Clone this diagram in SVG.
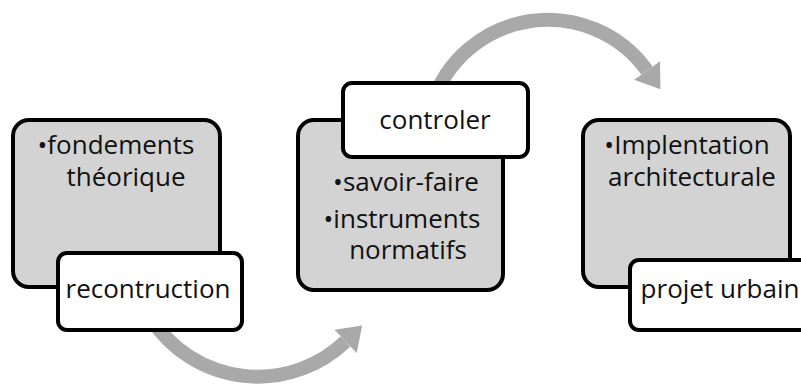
<svg xmlns="http://www.w3.org/2000/svg" width="801" height="385" viewBox="0 0 801 385">
<style>
.main{fill:#d3d3d3;stroke:#000;stroke-width:4}
.tab{fill:#fff;stroke:#000;stroke-width:4}
.arc{fill:none;stroke:#a9a9a9;stroke-width:14}
text{font-family:"Open Sans","Liberation Sans",sans-serif;font-size:26px;fill:#111;text-anchor:middle}
</style>
<defs>
<marker id="ah" markerUnits="userSpaceOnUse" markerWidth="24" markerHeight="32" refX="0" refY="16" orient="auto" viewBox="0 0 24 32">
<path d="M0,0 L23,16 L0,32 z" fill="#a9a9a9"/>
</marker>
</defs>
<g id="connectors">
<path class="arc" d="M152,320 A127,127 0 0 0 345.6,341.4" marker-end="url(#ah)"/>
<path class="arc" d="M432,104 A122,122 0 0 1 647,70.5" marker-end="url(#ah)"/>
</g>
<g id="node1">
<rect class="main" x="13" y="120" width="207" height="167" rx="16"/>
<text x="116" y="154">•fondements</text>
<text x="126" y="186">théorique</text>
</g>
<g id="tab1">
<rect class="tab" x="58" y="253" width="184" height="77" rx="9"/>
<text x="148" y="298">recontruction</text>
</g>
<g id="node2">
<rect class="main" x="298" y="120" width="205" height="170" rx="16"/>
<text x="406" y="191">•savoir-faire</text>
<text x="402" y="228">•instruments</text>
<text x="408" y="259">normatifs</text>
</g>
<g id="tab2">
<rect class="tab" x="343" y="83" width="185" height="74" rx="9"/>
<text x="435" y="129">controler</text>
</g>
<g id="node3">
<rect class="main" x="583" y="120" width="207" height="167" rx="16"/>
<text x="687" y="154">•Implentation</text>
<text x="692" y="186">architecturale</text>
</g>
<g id="tab3">
<rect class="tab" x="630" y="260" width="190" height="70" rx="9"/>
<text x="720" y="298">projet urbain</text>
</g>
</svg>
